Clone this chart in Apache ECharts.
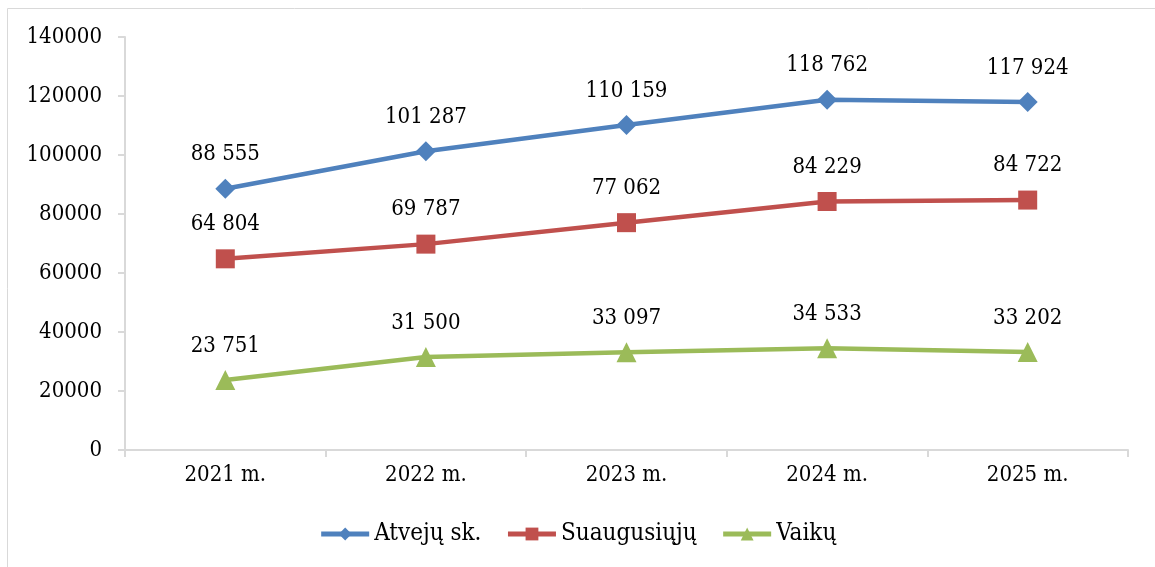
<!DOCTYPE html>
<html><head><meta charset="utf-8">
<script src="https://cdn.jsdelivr.net/npm/echarts@6/dist/echarts.min.js"></script>
<style>html,body{margin:0;padding:0;background:#fff}#c{width:1155px;height:567px}</style>
</head><body><div id="c"></div>
<script>
var categories = ['2021 m.', '2022 m.', '2023 m.', '2024 m.', '2025 m.'];
var seriesNames = ['Atvejų sk.', 'Suaugusiųjų', 'Vaikų'];
var atvejuSk = [88555, 101287, 110159, 118762, 117924];
var suaugusiuju = [64804, 69787, 77062, 84229, 84722];
var vaiku = [23751, 31500, 33097, 34533, 33202];
var FONT = '"DejaVu Serif Condensed", "Liberation Serif", serif';
function fmt(v){ return String(v).replace(/\B(?=(\d{3})+(?!\d))/g, ' '); }
var chart = echarts.init(document.getElementById('c'), null, {renderer:'canvas'});
function mk(name, data, color, symbol, size, dist){
  return {name:name, type:'line', data:data, symbol:symbol, symbolSize:size,
    lineStyle:{color:color, width:4.5}, itemStyle:{color:color},
    label:{show:true, position:'top', distance:dist, fontFamily:FONT, fontSize:22, color:'#000',
      formatter:function(p){return fmt(p.value);}},
    emphasis:{disabled:true}, animation:false};
}
chart.setOption({
  animation:false,
  graphic:[{type:'rect', shape:{x:7.5,y:8.5,width:1200,height:600}, style:{fill:'none', stroke:'#d9d9d9', lineWidth:1}, silent:true}],
  grid:{left:125, right:27, top:37, bottom:117},
  xAxis:{type:'category', data:categories, boundaryGap:true,
    axisLine:{lineStyle:{color:'#d9d9d9', width:2}},
    axisTick:{show:true, length:7, lineStyle:{color:'#d9d9d9', width:2}},
    axisLabel:{fontFamily:FONT, fontSize:22, color:'#000', margin:14}},
  yAxis:{type:'value', min:0, max:140000, interval:20000,
    axisLine:{show:true, lineStyle:{color:'#d9d9d9', width:2}},
    axisTick:{show:true, length:7, lineStyle:{color:'#d9d9d9', width:2}},
    splitLine:{show:false},
    axisLabel:{fontFamily:FONT, fontSize:22, color:'#000', margin:23, formatter:function(v){return String(v);}}},
  legend:{bottom:16, left:'center', itemWidth:48, itemHeight:16, itemGap:24,
    lineStyle:{width:5},
    textStyle:{fontFamily:FONT, fontSize:24, color:'#000'}, data:seriesNames},
  series:[
    mk(seriesNames[0], atvejuSk, '#4F81BD', 'diamond', 20, 13),
    mk(seriesNames[1], suaugusiuju, '#C0504D', 'rect', 19, 14),
    mk(seriesNames[2], vaiku, '#9BBB59', 'triangle', 20, 13)
  ]
});
</script></body></html>
